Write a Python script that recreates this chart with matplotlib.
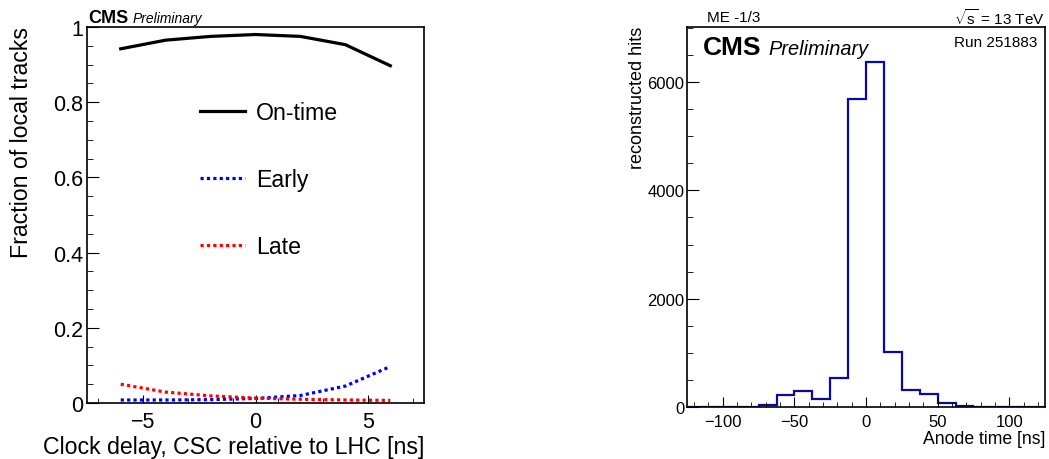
import numpy as np
import matplotlib
matplotlib.use('Agg')
import matplotlib.pyplot as plt
from matplotlib.ticker import FixedLocator, MultipleLocator

plt.rcParams['font.family'] = ['Liberation Sans', 'DejaVu Sans']
plt.rcParams['mathtext.fontset'] = 'custom'
plt.rcParams['mathtext.rm'] = 'Liberation Sans'
plt.rcParams['mathtext.it'] = 'Liberation Sans:italic'

# left panel: fraction of local tracks vs clock delay
delay = [-6, -4, -2, 0, 2, 4, 6]
on_time = [0.942, 0.965, 0.975, 0.980, 0.975, 0.953, 0.897]
early = [0.008, 0.008, 0.009, 0.012, 0.020, 0.045, 0.097]
late = [0.050, 0.029, 0.019, 0.013, 0.010, 0.008, 0.007]

# right panel: anode time histogram, 12.5 ns bins
edges = np.linspace(-125, 125, 21)
hits = [0, 0, 0, 8, 30, 215, 290, 148, 530, 5690,
        6380, 1010, 320, 246, 68, 25, 5, 0, 0, 0]

fig = plt.figure(figsize=(10.49, 4.60), dpi=100)
W, H = 1049, 460


def px_axes(x0, y0, x1, y1):
    return fig.add_axes([x0 / W, 1 - y1 / H, (x1 - x0) / W, (y1 - y0) / H])


# ---------------- left panel ----------------
ax = px_axes(87, 28, 424, 404)
ax.plot(delay, on_time, color='black', lw=2.3, label='On-time')
ax.plot(delay, early, color='#0000ff', lw=2.3, ls=(0, (1, 1)), label='Early')
ax.plot(delay, late, color='#ff0000', lw=2.3, ls=(0, (1, 1)), label='Late')
ax.set_xlim(-7.5, 7.5)
ax.set_ylim(0, 1)
ax.xaxis.set_major_locator(FixedLocator([-5, 0, 5]))
ax.xaxis.set_minor_locator(FixedLocator([-7, -3, -1, 1, 3, 7]))
ax.yaxis.set_major_locator(FixedLocator([0, 0.2, 0.4, 0.6, 0.8, 1.0]))
ax.yaxis.set_minor_locator(MultipleLocator(0.05))
ax.set_yticklabels(['0', '0.2', '0.4', '0.6', '0.8', '1'])
ax.tick_params(axis='both', which='both', direction='in', labelsize=15.5,
               top=False, right=False)
ax.tick_params(axis='y', which='major', length=8.6, pad=3)
ax.tick_params(axis='y', which='minor', length=4.3)
ax.tick_params(axis='x', which='major', length=6, pad=6)
ax.tick_params(axis='x', which='minor', length=3.5)
for sp in ax.spines.values():
    sp.set_linewidth(1.2)

ax.legend(loc='upper left', bbox_to_anchor=(200 / W, 1 - 102 / H),
          bbox_transform=fig.transFigure, frameon=False, fontsize=16.7,
          handlelength=1.95, handletextpad=0.45, labelspacing=1.9,
          borderpad=0, borderaxespad=0)

ax.set_xlabel('Clock delay, CSC relative to LHC [ns]', fontsize=16.7,
              loc='right', labelpad=2)
fig.text(22 / W, 1 - 27 / H, 'Fraction of local tracks', rotation=90,
         ha='center', va='top', fontsize=16.7)
fig.text(88 / W, 1 - 23 / H, 'CMS', fontsize=13, fontweight='bold',
         ha='left', va='baseline')
fig.text(133 / W, 1 - 23 / H, 'Preliminary', fontsize=10, style='italic',
         ha='left', va='baseline')

# ---------------- right panel ----------------
ax2 = px_axes(687, 28, 1045, 408)
ax2.stairs(hits, edges, color='#0a0aa0', lw=1.6)
ax2.set_xlim(-125, 125)
ax2.set_ylim(0, 7018)
ax2.xaxis.set_major_locator(MultipleLocator(50))
ax2.xaxis.set_minor_locator(MultipleLocator(10))
ax2.yaxis.set_major_locator(MultipleLocator(2000))
ax2.yaxis.set_minor_locator(MultipleLocator(500))
ax2.tick_params(axis='both', which='both', direction='in', labelsize=12,
                top=False, right=False)
ax2.tick_params(axis='y', which='major', length=8.6, pad=2)
ax2.tick_params(axis='y', which='minor', length=4.3)
ax2.tick_params(axis='x', which='major', length=7.2, pad=5)
ax2.tick_params(axis='x', which='minor', length=3.6)
for sp in ax2.spines.values():
    sp.set_linewidth(1.2)

ax2.set_xlabel('Anode time [ns]', fontsize=12.7, loc='right', labelpad=1)
fig.text(638 / W, 1 - 27 / H, 'reconstructed hits', rotation=90,
         ha='center', va='top', fontsize=13)
fig.text(707 / W, 1 - 18 / H, 'ME -1/3', fontsize=11, ha='left', va='center')
fig.text(1045 / W, 1 - 18 / H, r'$\sqrt{\mathrm{s}}$ = 13 TeV', fontsize=11,
         ha='right', va='center')
fig.text(703 / W, 1 - 55 / H, 'CMS', fontsize=19, fontweight='bold',
         ha='left', va='baseline')
fig.text(768 / W, 1 - 55 / H, 'Preliminary', fontsize=14.4, style='italic',
         ha='left', va='baseline')
fig.text(1037 / W, 1 - 43 / H, 'Run 251883', fontsize=11,
         ha='right', va='center')

fig.savefig('out.png', dpi=100)
